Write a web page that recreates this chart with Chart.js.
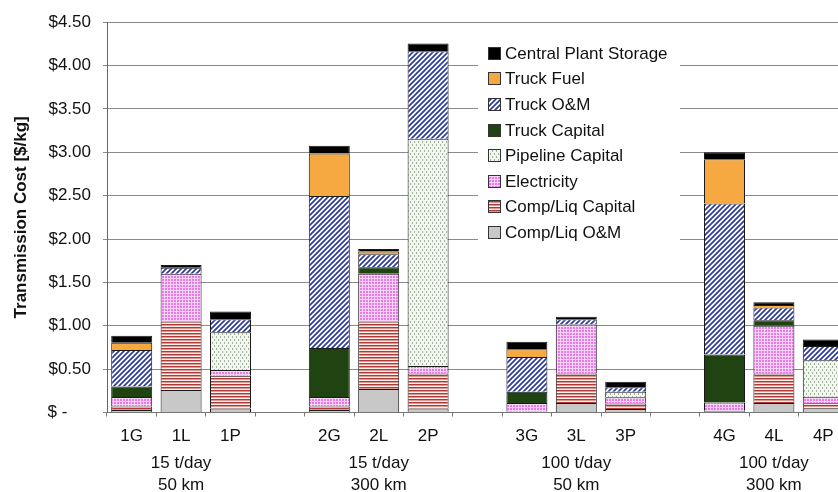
<!DOCTYPE html>
<html>
<head>
<meta charset="utf-8">
<script src="https://cdn.jsdelivr.net/npm/chart.js@4.4.0/dist/chart.umd.min.js"></script>
<style>
  html, body { margin: 0; padding: 0; background: #fff; overflow: hidden; }
  #wrap { width: 850px; height: 492px; }
</style>
</head>
<body>
<div id="wrap"><canvas id="cost-chart" width="850" height="492"></canvas></div>
<script>
// Categories ('' = gap between the scenario groups)
const categories = ['1G', '1L', '1P', '', '2G', '2L', '2P', '', '3G', '3L', '3P', '', '4G', '4L', '4P'];
const groupLabels = ['', ['15 t/day', '50 km'], '', '', '', ['15 t/day', '300 km'], '', '', '', ['100 t/day', '50 km'], '', '', '', ['100 t/day', '300 km'], ''];
const yTickLabels = ['$\u00a0-\u00a0\u00a0\u00a0\u00a0\u00a0', '$0.50', '$1.00', '$1.50', '$2.00', '$2.50', '$3.00', '$3.50', '$4.00', '$4.50'];

// Cost components in $/kg, stacked from the bottom up
const compOM          = [0.03, 0.26, 0.045, 0, 0.03, 0.27, 0.045, 0, 0.005, 0.11, 0.04, 0, 0.01, 0.11, 0.048];
const compCapital     = [0.04, 0.79, 0.38, 0, 0.04, 0.78, 0.405, 0, 0.005, 0.34, 0.065, 0, 0.01, 0.34, 0.06];
const electricity     = [0.11, 0.55, 0.065, 0, 0.11, 0.55, 0.085, 0, 0.10, 0.565, 0.07, 0, 0.095, 0.55, 0.075];
const pipelineCapital = [0, 0, 0.435, 0, 0, 0, 2.62, 0, 0, 0, 0.065, 0, 0, 0, 0.42];
const truckCapital    = [0.12, 0, 0, 0, 0.565, 0.075, 0, 0, 0.13, 0, 0, 0, 0.555, 0.065, 0];
const truckOM         = [0.42, 0.07, 0.15, 0, 1.75, 0.15, 1.01, 0, 0.40, 0.06, 0.05, 0, 1.74, 0.145, 0.165];
const truckFuel       = [0.085, 0, 0, 0, 0.49, 0.03, 0, 0, 0.09, 0, 0, 0, 0.51, 0.03, 0];
const plantStorage    = [0.08, 0.03, 0.09, 0, 0.09, 0.03, 0.09, 0, 0.085, 0.03, 0.065, 0, 0.08, 0.03, 0.075];

const FONT = '"Liberation Sans", Arial, sans-serif';

// Small fill patterns, like the Excel hatches
function makePattern(kind) {
  const c = document.createElement('canvas');
  const g = c.getContext('2d');
  if (kind === 'stripes') {
    c.width = 4; c.height = 3;
    g.fillStyle = '#fcefec'; g.fillRect(0, 0, 4, 3);
    g.fillStyle = '#ad3b3b'; g.fillRect(0, 0, 4, 1);
    g.fillStyle = '#df9890'; g.fillRect(0, 1, 4, 1);
  } else if (kind === 'grid') {
    c.width = 3; c.height = 3;
    g.fillStyle = '#f8d4f8'; g.fillRect(0, 0, 3, 3);
    g.fillStyle = '#e87ae8'; g.fillRect(0, 0, 2, 2);
  } else if (kind === 'dots') {
    c.width = 4; c.height = 6;
    g.fillStyle = '#f1f6ee'; g.fillRect(0, 0, 4, 6);
    g.fillStyle = '#a2b09e'; g.fillRect(0, 0, 1, 2); g.fillRect(2, 3, 1, 2);
  } else if (kind === 'diag') {
    c.width = 5; c.height = 5;
    g.fillStyle = '#ffffff'; g.fillRect(0, 0, 5, 5);
    g.strokeStyle = '#2d3c9c'; g.lineWidth = 1.7;
    g.beginPath();
    g.moveTo(-1, 6); g.lineTo(6, -1);
    g.moveTo(-1, 1); g.lineTo(1, -1);
    g.moveTo(4, 6); g.lineTo(6, 4);
    g.stroke();
  }
  return g.createPattern(c, 'repeat');
}

function makeDataset(label, values, fill) {
  return {
    label: label,
    data: values.map(v => v || null),
    backgroundColor: fill,
    borderColor: '#1a1a1a',
    borderWidth: { top: 1, left: 1, right: 1, bottom: 0 },
    borderSkipped: false,
    categoryPercentage: 1,
    barPercentage: 0.83
  };
}

// Legend drawn inside the plot, on a white box
const boxLegend = {
  id: 'boxLegend',
  beforeDatasetsDraw(chart) {
    const ctx = chart.ctx;
    ctx.save();
    ctx.fillStyle = '#ffffff';
    ctx.fillRect(478, 36, 202, 212);
    const items = chart.data.datasets.slice().reverse();
    ctx.font = '17px ' + FONT;
    ctx.textBaseline = 'middle';
    items.forEach((ds, i) => {
      const y = Math.round(52.7 + i * 25.6);
      ctx.fillStyle = ds.backgroundColor;
      ctx.fillRect(488, y - 6, 13, 13);
      ctx.strokeStyle = '#333';
      ctx.lineWidth = 1;
      ctx.strokeRect(488.5, y - 5.5, 12, 12);
      ctx.fillStyle = '#111';
      ctx.fillText(ds.label, 505, y + 1);
    });
    ctx.restore();
  }
};

function initializeCostChart(chartId) {
  const canvas = document.getElementById(chartId);
  if (!canvas) return;
  const ctx = canvas.getContext('2d');

  const chart = new Chart(ctx, {
    type: 'bar',
    data: {
      labels: categories,
      datasets: [
        makeDataset('Comp/Liq O&M', compOM, '#c8c8c8'),
        makeDataset('Comp/Liq Capital', compCapital, makePattern('stripes')),
        makeDataset('Electricity', electricity, makePattern('grid')),
        makeDataset('Pipeline Capital', pipelineCapital, makePattern('dots')),
        makeDataset('Truck Capital', truckCapital, '#1f4412'),
        makeDataset('Truck O&M', truckOM, makePattern('diag')),
        makeDataset('Truck Fuel', truckFuel, '#f5a940'),
        makeDataset('Central Plant Storage', plantStorage, '#000000')
      ]
    },
    options: {
      responsive: false,
      animation: false,
      layout: { padding: { top: 21, left: 0, right: 2, bottom: 0 } },
      plugins: {
        legend: { display: false },
        tooltip: { enabled: false }
      },
      scales: {
        x: {
          stacked: true,
          offset: true,
          weight: 0,
          grid: { display: true, drawOnChartArea: false, tickLength: 4, color: '#777' },
          border: { display: true, color: '#777' },
          ticks: { autoSkip: false, maxRotation: 0, padding: 10, color: '#111', font: { family: FONT, size: 17 } },
          afterFit: s => { s.height = 36; }
        },
        x2: {
          type: 'category',
          labels: categories,
          position: 'bottom',
          offset: true,
          weight: 1,
          grid: { display: false, drawTicks: false },
          border: { display: false },
          ticks: {
            autoSkip: false, maxRotation: 0, padding: 4, color: '#111',
            font: { family: FONT, size: 17, lineHeight: 1.3 },
            callback: (value, index) => groupLabels[index]
          },
          afterFit: s => { s.height = 43.5; }
        },
        y: {
          stacked: true,
          min: 0,
          max: 4.5,
          ticks: {
            stepSize: 0.5,
            padding: 12,
            color: '#111',
            font: { family: FONT, size: 17 },
            callback: (value, index) => yTickLabels[index]
          },
          grid: { color: '#8a8a8a', tickLength: 4 },
          border: { display: true, color: '#666' },
          title: {
            display: true,
            text: 'Transmission Cost [$/kg]',
            color: '#111',
            font: { family: FONT, size: 17, weight: 'bold' },
            padding: { top: 11, bottom: 0 }
          },
          afterFit: s => { s.width = 107; }
        }
      }
    },
    plugins: [boxLegend]
  });

  canvas.chart = chart;
  return chart;
}

initializeCostChart('cost-chart');
</script>
</body>
</html>
